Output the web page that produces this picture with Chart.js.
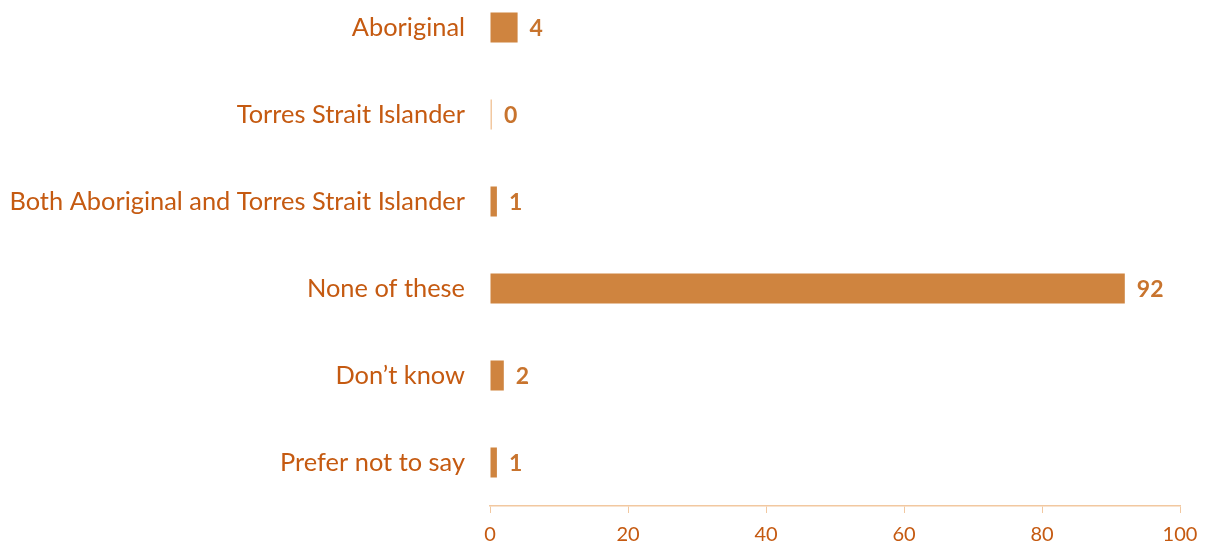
<!DOCTYPE html>
<html>
<head>
<meta charset="utf-8">
<script src="https://cdn.jsdelivr.net/npm/chart.js@4/dist/chart.umd.min.js"></script>
<style>
  html, body { margin: 0; padding: 0; background: #fff; overflow: hidden; }
  #wrap { position: relative; top: -16px; width: 1213px; height: 565px; }
</style>
</head>
<body>
<div id="wrap"><canvas id="myChart"></canvas></div>
<script>
const categories = [
  'Aboriginal',
  'Torres Strait Islander',
  'Both Aboriginal and Torres Strait Islander',
  'None of these',
  'Don\u2019t know',
  'Prefer not to say',
];
const values = [4, 0, 1, 92, 2, 1];
const xTicks = [0, 20, 40, 60, 80, 100];

const barColor = '#CF843F';
const textColor = '#C55A11';
const labelColor = '#C8742E';
const axisColor = '#F2C8A0';
const font = 'Lato, "Open Sans", sans-serif';

// value labels right of each bar
const valueLabels = {
  id: 'valueLabels',
  afterDatasetsDraw(chart) {
    const ctx = chart.ctx;
    const meta = chart.getDatasetMeta(0);
    ctx.save();
    ctx.font = 'bold 23px ' + font;
    ctx.fillStyle = labelColor;
    ctx.textAlign = 'left';
    ctx.textBaseline = 'middle';
    meta.data.forEach(function(bar, i) {
      ctx.fillText(String(values[i]), bar.x + 12, bar.y + 1);
    });
    ctx.restore();
  }
};

const data = {
  labels: categories,
  datasets: [{
    data: values,
    backgroundColor: values.map(function(v) { return v === 0 ? axisColor : barColor; }),
    borderWidth: 0,
    barPercentage: 0.345,
    categoryPercentage: 1,
    minBarLength: 2,
  }]
};

const config = {
  type: 'bar',
  data: data,
  options: {
    indexAxis: 'y',
    responsive: true,
    maintainAspectRatio: false,
    animation: false,
    layout: { padding: { top: 0, right: 33, left: 0, bottom: 0 } },
    plugins: {
      legend: { display: false },
      tooltip: { enabled: false },
    },
    scales: {
      x: {
        min: 0,
        max: 100,
        afterBuildTicks: function(scale) {
          scale.ticks = xTicks.map(function(v) { return { value: v }; });
        },
        afterFit: function(scale) { scale.height = 43; },
        grid: { drawOnChartArea: false, drawTicks: true, tickLength: 7, color: axisColor },
        border: { display: true, color: axisColor, width: 1.5 },
        ticks: { color: textColor, padding: 10, font: { family: font, size: 20 } },
      },
      y: {
        afterFit: function(scale) {
          scale.width = 490;
          scale.paddingTop = 0;
          scale.paddingBottom = 0;
        },
        grid: { display: false, drawTicks: false },
        border: { display: false },
        ticks: { color: textColor, padding: 25, font: { family: font, size: 25.4 } },
      }
    }
  },
  plugins: [valueLabels],
};

const myChart = new Chart(document.getElementById('myChart'), config);
</script>
</body>
</html>
